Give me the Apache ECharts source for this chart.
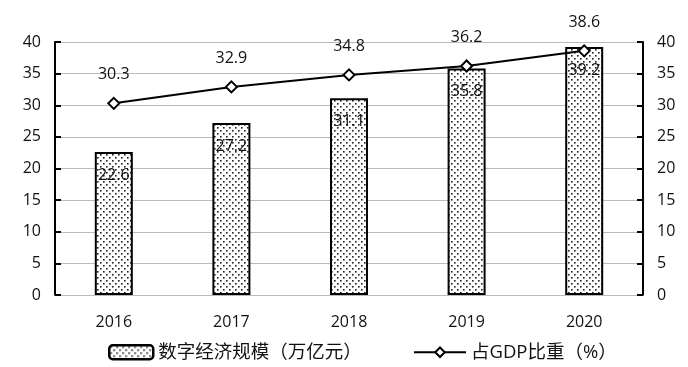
<!DOCTYPE html>
<html><head><meta charset="utf-8">
<script src="https://cdn.jsdelivr.net/npm/echarts@6/dist/echarts.min.js"></script>
<style>html,body{margin:0;padding:0;background:#fff}#c{width:688px;height:367px}</style>
</head><body><div id="c"></div>
<script>
const categories = ['2016','2017','2018','2019','2020'];
const scaleValues = [22.6, 27.2, 31.1, 35.8, 39.2];
const shareValues = [30.3, 32.9, 34.8, 36.2, 38.6];
const barName = '数字经济规模（万亿元）';
const lineName = '占GDP比重（%）';

const pc = document.createElement('canvas');
pc.width = 6; pc.height = 6;
const g = pc.getContext('2d');
g.fillStyle = '#fff'; g.fillRect(0,0,6,6);
g.fillStyle = '#222';
g.fillRect(1,1,1.6,1.6);
g.fillRect(4,4,1.6,1.6);
const pattern = {image: pc, repeat: 'repeat'};

const font = "'Open Sans','Noto Sans CJK SC',sans-serif";
const chart = echarts.init(document.getElementById('c'));
const axisCommon = {
  type: 'value', min: 0, max: 40, interval: 5,
  axisLine: {show: true, lineStyle: {color: '#000', width: 2}},
  axisTick: {show: true, inside: true, length: 6, lineStyle: {color: '#000', width: 2}},
  axisLabel: {color: '#111', fontSize: 16, fontFamily: font, margin: 14},
  splitLine: {show: false}
};
chart.setOption({
  animation: false,
  textStyle: {fontFamily: font},
  grid: {left: 55, right: 45, top: 42, bottom: 72, containLabel: false},
  legend: [
    {data: [barName], left: 103, top: 338, itemWidth: 44, itemHeight: 14,
     itemStyle: {borderWidth: 2.5},
     textStyle: {fontSize: 18.5, color: '#111', fontFamily: font}, itemGap: 4},
    {data: [lineName], left: 408, top: 338, itemWidth: 52, itemHeight: 12,
     textStyle: {fontSize: 18.5, color: '#111', fontFamily: font}}
  ],
  xAxis: {
    type: 'category', data: categories,
    axisLine: {show: true, lineStyle: {color: '#bbb', width: 1}},
    axisTick: {show: false},
    axisLabel: {color: '#111', fontSize: 16, fontFamily: font, margin: 19}
  },
  yAxis: [
    Object.assign({}, axisCommon, {position: 'left',
      splitLine: {show: true, lineStyle: {color: '#bbb', width: 1}}}),
    Object.assign({}, axisCommon, {position: 'right'})
  ],
  series: [
    {
      name: barName, type: 'bar', data: scaleValues, barWidth: 38,
      itemStyle: {color: pattern, borderColor: '#000', borderWidth: 2},
      label: {show: true, position: 'insideTop', distance: 15, fontSize: 16, color: '#111', fontFamily: font}
    },
    {
      name: lineName, type: 'line', yAxisIndex: 1, data: shareValues,
      symbol: 'diamond', symbolSize: 11,
      lineStyle: {color: '#000', width: 2},
      itemStyle: {color: '#fff', borderColor: '#000', borderWidth: 2},
      label: {show: true, position: 'top', distance: 14, fontSize: 16, color: '#111', fontFamily: font}
    }
  ]
});
</script></body></html>
